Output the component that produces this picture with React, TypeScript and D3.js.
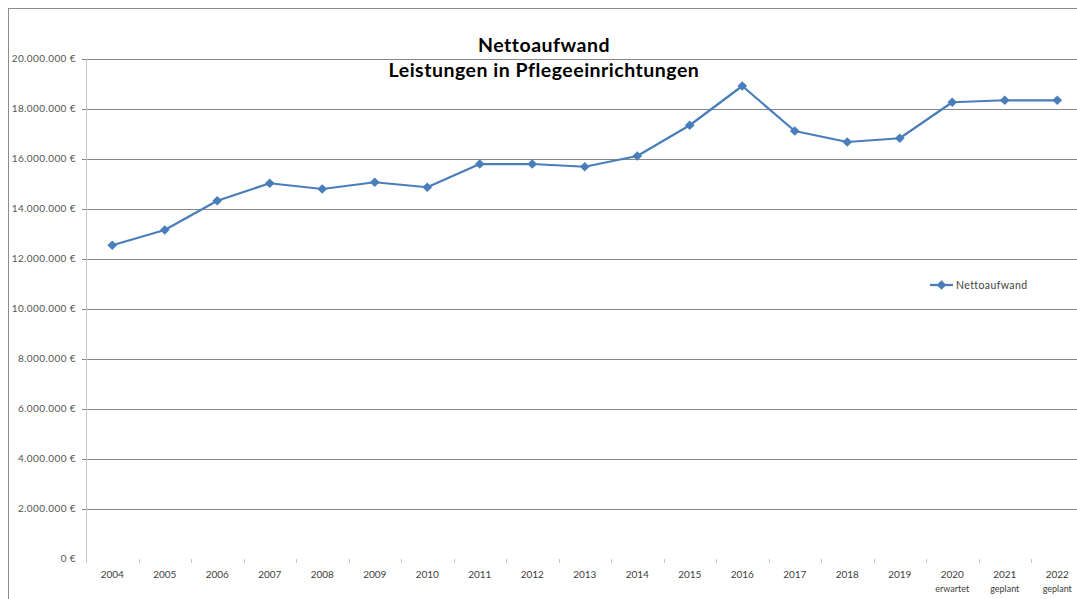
import React, { useEffect, useRef } from "react";
import * as d3 from "d3";

// Nettoaufwand – Leistungen in Pflegeeinrichtungen
const years = ["2004", "2005", "2006", "2007", "2008", "2009", "2010", "2011", "2012", "2013",
  "2014", "2015", "2016", "2017", "2018", "2019", "2020", "2021", "2022"];
const yearNotes = ["", "", "", "", "", "", "", "", "", "", "", "", "", "", "", "", "erwartet", "geplant", "geplant"];
const nettoaufwand = [12550000, 13160000, 14330000, 15030000, 14800000, 15070000, 14870000, 15800000,
  15800000, 15690000, 16120000, 17350000, 18920000, 17120000, 16680000, 16830000, 18270000, 18350000, 18350000];
const yTicks = [0, 2000000, 4000000, 6000000, 8000000, 10000000, 12000000, 14000000, 16000000, 18000000, 20000000];
const seriesName = "Nettoaufwand";
const titleLines = ["Nettoaufwand", "Leistungen in Pflegeeinrichtungen"];

const W = 1077;
const H = 599;
const BLUE = "#4a7ebb";

function App() {
  const svgRef = useRef<SVGSVGElement>(null);

  useEffect(() => {
    const svg = d3.select(svgRef.current);
    svg.selectAll("*").remove();

    const left = 86, right = 1083.5, top = 59, bottom = 559;

    const x = d3.scaleBand().domain(years).range([left, right]);
    const y = d3.scaleLinear().domain([0, 20000000]).range([bottom, top]);
    const cx = (d: string) => (x(d) as number) + x.bandwidth() / 2;

    const de = d3.formatLocale({ decimal: ",", thousands: ".", grouping: [3], currency: ["", " €"] });
    const fmt = de.format("$,.0f");

    // chart frame
    svg.append("rect")
      .attr("x", 8.5).attr("y", 8.5)
      .attr("width", W).attr("height", H)
      .attr("fill", "none").attr("stroke", "#8c8c8c");

    // gridlines (+ small tick stubs on the left)
    svg.append("g")
      .selectAll("line")
      .data(yTicks.filter(t => t > 0))
      .join("line")
      .attr("x1", left - 4).attr("x2", W)
      .attr("y1", d => Math.round(y(d)) + 0.5).attr("y2", d => Math.round(y(d)) + 0.5)
      .attr("stroke", "#868686");

    // y labels
    svg.append("g")
      .selectAll("text")
      .data(yTicks)
      .join("text")
      .attr("x", 76).attr("y", d => y(d) + 3)
      .attr("text-anchor", "end")
      .attr("font-family", "Lato, sans-serif").attr("font-size", 10)
      .attr("letter-spacing", 0.4)
      .attr("fill", "#555")
      .text(d => fmt(d));

    // vertical axis line
    svg.append("line")
      .attr("x1", left + 0.5).attr("x2", left + 0.5)
      .attr("y1", top).attr("y2", bottom + 4)
      .attr("stroke", "#c4c4c4");

    // category tick marks between bands
    svg.append("g")
      .selectAll("line")
      .data(years.slice(1))
      .join("line")
      .attr("x1", d => Math.round(x(d) as number) + 0.5).attr("x2", d => Math.round(x(d) as number) + 0.5)
      .attr("y1", bottom).attr("y2", bottom + 4)
      .attr("stroke", "#c4c4c4");

    // x labels
    const xl = svg.append("g")
      .attr("font-family", "Lato, sans-serif").attr("font-size", 10)
      .attr("fill", "#404040").attr("text-anchor", "middle");
    xl.selectAll("text.yr")
      .data(years)
      .join("text")
      .attr("class", "yr")
      .attr("x", cx).attr("y", 578)
      .text(d => d);
    xl.selectAll("text.note")
      .data(years.map((d, i) => ({ d, n: yearNotes[i] })).filter(o => o.n))
      .join("text")
      .attr("class", "note")
      .attr("x", o => cx(o.d)).attr("y", 592)
      .attr("font-size", 9)
      .text(o => o.n);

    // line
    const line = d3.line<number>()
      .x((_, i) => cx(years[i]))
      .y(d => y(d));
    svg.append("path")
      .datum(nettoaufwand)
      .attr("d", line)
      .attr("fill", "none")
      .attr("stroke", BLUE)
      .attr("stroke-width", 2.25)
      .attr("stroke-linejoin", "round");

    const diamond = d3.symbol().type(d3.symbolDiamond2).size(60);
    svg.append("g")
      .selectAll("path")
      .data(nettoaufwand)
      .join("path")
      .attr("transform", (d, i) => `translate(${cx(years[i])},${y(d)})`)
      .attr("d", diamond)
      .attr("fill", BLUE);

    // legend
    const lg = svg.append("g").attr("transform", "translate(930,285)");
    lg.append("line").attr("x1", 0).attr("x2", 23).attr("y1", 0).attr("y2", 0)
      .attr("stroke", BLUE).attr("stroke-width", 2.25);
    lg.append("path").attr("transform", "translate(11.5,0)").attr("d", diamond).attr("fill", BLUE);
    lg.append("text").attr("x", 26).attr("y", 3.5)
      .attr("font-family", "Lato, sans-serif").attr("font-size", 10.5)
      .attr("letter-spacing", 0.4)
      .attr("fill", "#404040")
      .text(seriesName);

    // title
    svg.append("g")
      .attr("font-family", "Lato, sans-serif").attr("font-weight", "bold")
      .attr("font-size", 19.5).attr("letter-spacing", 0.5)
      .attr("fill", "#000").attr("text-anchor", "middle")
      .selectAll("text")
      .data(titleLines)
      .join("text")
      .attr("x", 544).attr("y", (d, i) => 52 + i * 25)
      .text(d => d);
  }, []);

  return (
    <svg
      ref={svgRef}
      width={W}
      height={H}
      style={{ position: "absolute", left: 0, top: 0, background: "#fff" }}
    />
  );
}

export default App;
